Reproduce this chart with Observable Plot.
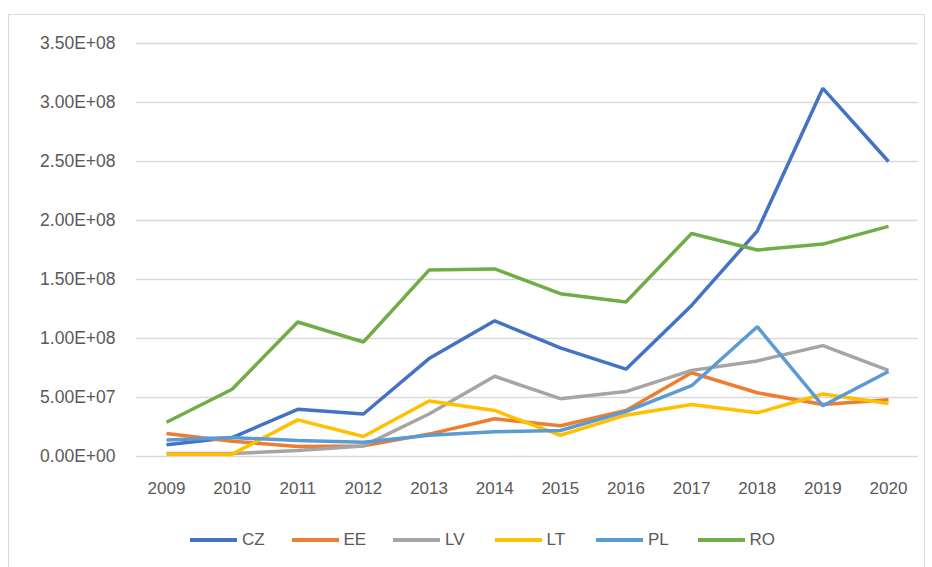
<!DOCTYPE html>
<html>
<head>
<meta charset="utf-8">
<script src="https://cdn.jsdelivr.net/npm/d3@7"></script>
<script src="https://cdn.jsdelivr.net/npm/@observablehq/plot@0.6"></script>
<style>
  html, body { margin: 0; padding: 0; background: #fff; }
  #wrap { position: relative; width: 932px; height: 567px; overflow: hidden; font-family: "Liberation Sans", Arial, sans-serif; }
  #frame { position: absolute; left: 8px; top: 14px; width: 917px; height: 560px; border: 1px solid #d9d9d9; box-sizing: border-box; }
  #chart { position: absolute; left: 0; top: 0; }
  #legend { position: absolute; left: 190px; top: 530px; display: flex; font-size: 17px; color: #595959; }
  .item { display: flex; align-items: center; width: 101.5px; }
  .sw { width: 47px; height: 4px; margin-right: 5px; }
</style>
</head>
<body>
<div id="wrap">
  <div id="frame"></div>
  <div id="chart"></div>
  <div id="legend"></div>
</div>
<script>
const years = [2009, 2010, 2011, 2012, 2013, 2014, 2015, 2016, 2017, 2018, 2019, 2020];
const seriesNames = ["CZ", "EE", "LV", "LT", "PL", "RO"];
const colors = ["#4472C4", "#ED7D31", "#A5A5A5", "#FFC000", "#5B9BD5", "#70AD47"];
const CZ = [10e6, 16e6, 40e6, 36e6, 83e6, 115e6, 92e6, 74e6, 128e6, 191e6, 312e6, 250e6];
const EE = [19.5e6, 13e6, 8.5e6, 9e6, 19e6, 32e6, 26e6, 39e6, 71e6, 54e6, 44e6, 48e6];
const LV = [2.5e6, 2.5e6, 5e6, 9e6, 36e6, 68e6, 49e6, 55e6, 73e6, 81e6, 94e6, 73e6];
const LT = [2e6, 2e6, 31e6, 17e6, 47e6, 39e6, 18e6, 35e6, 44e6, 37e6, 53e6, 45e6];
const PL = [14e6, 16e6, 13.5e6, 12e6, 18e6, 21e6, 22e6, 38e6, 60e6, 110e6, 43e6, 72e6];
const RO = [29e6, 57e6, 114e6, 97e6, 158e6, 159e6, 138e6, 131e6, 189e6, 175e6, 180e6, 195e6];
const yTicks = [0, 5e7, 1e8, 1.5e8, 2e8, 2.5e8, 3e8, 3.5e8];

const valuesBySeries = {CZ, EE, LV, LT, PL, RO};
const rows = seriesNames.flatMap(s => years.map((y, i) => ({series: s, year: y, value: valuesBySeries[s][i]})));

function sci(d) {
  if (d === 0) return "0.00E+00";
  const e = Math.floor(Math.log10(Math.abs(d)));
  const m = d / Math.pow(10, e);
  return m.toFixed(2) + "E" + (e >= 0 ? "+" : "-") + String(Math.abs(e)).padStart(2, "0");
}

const chart = Plot.plot({
  width: 932,
  height: 510,
  marginTop: 43,
  marginBottom: 54,
  marginLeft: 136,
  marginRight: 14,
  style: {fontFamily: "Liberation Sans, Arial, sans-serif", fontSize: "17px", color: "#595959", background: "transparent"},
  x: {type: "linear", domain: [2008.543, 2020.457], label: null},
  y: {domain: [0, 3.5e8], label: null},
  color: {domain: seriesNames, range: colors},
  marks: [
    Plot.gridY(yTicks, {stroke: "#d9d9d9", strokeOpacity: 1, strokeWidth: 1.3}),
    Plot.axisY(yTicks, {tickSize: 0, tickPadding: 21, tickFormat: sci, fill: "#595959", fontSize: 17.5, label: null}),
    Plot.axisX(years, {tickSize: 0, tickPadding: 25, fill: "#595959", fontSize: 17, label: null, tickFormat: d => String(d)}),
    Plot.line(rows, {x: "year", y: "value", z: "series", stroke: "series", strokeWidth: 3.5, strokeLinejoin: "miter", strokeLinecap: "butt"})
  ]
});
document.getElementById("chart").appendChild(chart);

const leg = document.getElementById("legend");
seriesNames.forEach((s, i) => {
  const it = document.createElement("div");
  it.className = "item";
  const sw = document.createElement("span");
  sw.className = "sw";
  sw.style.background = colors[i];
  const t = document.createElement("span");
  t.textContent = s;
  it.appendChild(sw); it.appendChild(t);
  leg.appendChild(it);
});
</script>
</body>
</html>
